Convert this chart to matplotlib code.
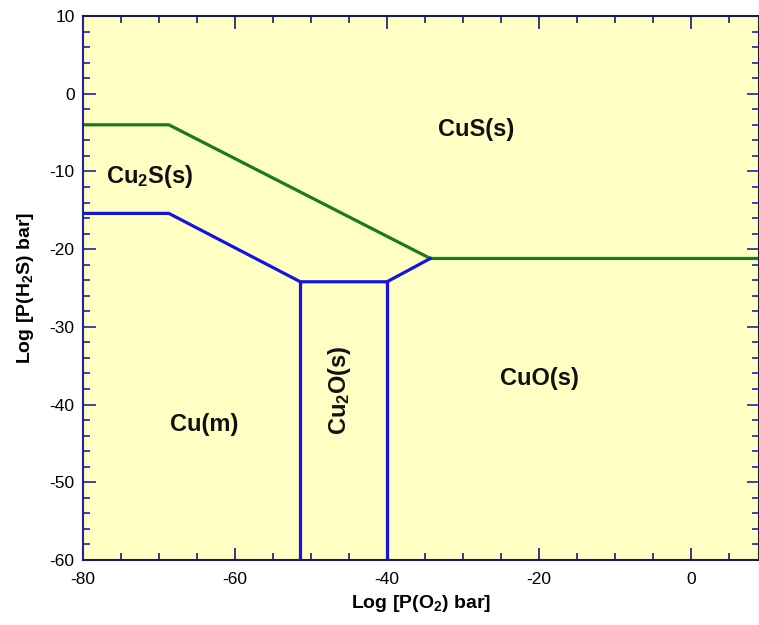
import matplotlib
matplotlib.use("Agg")
import matplotlib.pyplot as plt
from matplotlib.ticker import MultipleLocator

plt.rcParams['font.family'] = ['Liberation Sans', 'DejaVu Sans']
plt.rcParams['mathtext.default'] = 'regular'
plt.rcParams['axes.unicode_minus'] = False

# phase boundaries (log P(O2), log P(H2S))
green_x = [-80, -68.7, -34.3, 9]
green_y = [-4.0, -4.0, -21.2, -21.2]
blue_x = [-80, -68.7, -51.4, -40.0, -34.3]
blue_y = [-15.4, -15.4, -24.2, -24.2, -21.2]
cu2o_left_x = [-51.4, -51.4]
cu2o_left_y = [-24.2, -60]
cu2o_right_x = [-40.0, -40.0]
cu2o_right_y = [-24.2, -60]

region_names = ['CuS(s)', 'Cu$_2$S(s)', 'Cu(m)', 'CuO(s)', 'Cu$_2$O(s)']
region_x = [-28.3, -71.2, -64.0, -19.9, -46.2]
region_y = [-4.6, -10.6, -42.6, -36.7, -38.1]
region_rot = [0, 0, 0, 0, 90]

fig = plt.figure(figsize=(7.59, 6.25), dpi=100)
ax = fig.add_axes([83 / 759, 1 - 560 / 625, 1 - 83 / 759, (560 - 16) / 625])
ax.set_facecolor('#ffffc4')

green = '#1c7a1c'
blue = '#1414e0'
ax.plot(green_x, green_y, color=green, lw=2.3)
ax.plot(blue_x, blue_y, color=blue, lw=2.3)
ax.plot(cu2o_left_x, cu2o_left_y, color=blue, lw=2.3)
ax.plot(cu2o_right_x, cu2o_right_y, color=blue, lw=2.3)

for name, x, y, r in zip(region_names, region_x, region_y, region_rot):
    ax.text(x, y, name, fontsize=17, fontweight='bold', rotation=r,
            ha='center', va='center', color='#111111')

ax.set_xlim(-80, 8.95)
ax.set_ylim(-60, 10)
ax.xaxis.set_major_locator(MultipleLocator(20))
ax.xaxis.set_minor_locator(MultipleLocator(5))
ax.yaxis.set_major_locator(MultipleLocator(10))
ax.yaxis.set_minor_locator(MultipleLocator(2))

ax.tick_params(which='both', direction='in', top=True, right=True,
               labelsize=12.5, color='#1a1a70', width=1.2)
ax.tick_params(which='major', length=9)
ax.tick_params(which='minor', length=5)
ax.tick_params(axis='y', which='both', color='#2020b8', pad=6)
ax.tick_params(axis='x', which='both', pad=9)

for side in ['left', 'right', 'top', 'bottom']:
    ax.spines[side].set_linewidth(1.5)
    ax.spines[side].set_color('#1a1a50')
ax.spines['left'].set_color('#2020a0')

ax.set_xlabel('Log [P(O$_2$) bar]', fontsize=14, fontweight='bold', labelpad=4)
ax.set_ylabel('Log [P(H$_2$S) bar]', fontsize=14, fontweight='bold', labelpad=10)

fig.savefig('out.png', dpi=100)
